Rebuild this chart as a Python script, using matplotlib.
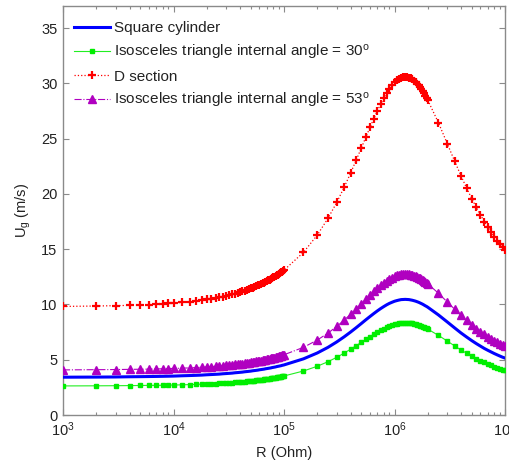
import matplotlib
matplotlib.use('Agg')
import matplotlib.pyplot as plt
from matplotlib.ticker import LogLocator, NullFormatter

# Load resistance R in kOhm (sample grid)
R_kohm = [1, 2, 3, 4, 5, 6, 7, 8, 9, 10,
          12, 14, 16, 18, 20, 22, 24, 26, 28, 30, 32, 34, 36, 38, 40, 42, 44, 46, 48, 50,
          52, 54, 56, 58, 60, 62, 64, 66, 68, 70, 72, 74, 76, 78, 80, 82, 84, 86, 88, 90,
          92, 94, 96, 98, 100,
          150, 200, 250, 300, 350, 400, 450, 500, 550, 600, 650, 700, 750, 800, 850, 900,
          950, 1000, 1050, 1100, 1150, 1200, 1250, 1300, 1350, 1400, 1450, 1500, 1550, 1600,
          1650, 1700, 1750, 1800, 1850, 1900, 1950, 2000,
          2500, 3000, 3500, 4000, 4500, 5000, 5500, 6000, 6500, 7000, 7500, 8000, 8500,
          9000, 9500, 10000]

U_square = [3.42, 3.43, 3.44, 3.46, 3.47, 3.48, 3.49, 3.50, 3.51, 3.52,
            3.55, 3.57, 3.59, 3.61, 3.64, 3.66, 3.68, 3.70, 3.73, 3.75, 3.77, 3.79, 3.82, 3.84, 3.86,
            3.88, 3.91, 3.93, 3.95, 3.97, 4.00, 4.02, 4.04, 4.06, 4.09, 4.11, 4.13, 4.15, 4.18, 4.20,
            4.22, 4.24, 4.26, 4.29, 4.31, 4.33, 4.35, 4.38, 4.40, 4.42, 4.44, 4.46, 4.49, 4.51, 4.53,
            5.08, 5.61, 6.12, 6.61, 7.07, 7.50, 7.90, 8.27, 8.61, 8.91, 9.18, 9.42, 9.63, 9.81, 9.97,
            10.10, 10.20, 10.29, 10.35, 10.40, 10.44, 10.45, 10.46, 10.45, 10.44, 10.41, 10.38, 10.34,
            10.30, 10.25, 10.20, 10.14, 10.08, 10.02, 9.95, 9.88, 9.82, 9.75,
            9.05, 8.42, 7.88, 7.42, 7.05, 6.73, 6.46, 6.23, 6.02, 5.85, 5.70, 5.56, 5.44, 5.33, 5.23, 5.15]

U_tri30 = [2.63, 2.64, 2.65, 2.66, 2.67, 2.68, 2.68, 2.69, 2.70, 2.71,
           2.73, 2.75, 2.77, 2.79, 2.80, 2.82, 2.84, 2.86, 2.88, 2.90, 2.91, 2.93, 2.95, 2.97, 2.99,
           3.00, 3.02, 3.04, 3.06, 3.08, 3.10, 3.11, 3.13, 3.15, 3.17, 3.19, 3.21, 3.22, 3.24, 3.26,
           3.28, 3.30, 3.31, 3.33, 3.35, 3.37, 3.39, 3.40, 3.42, 3.44, 3.46, 3.48, 3.49, 3.51, 3.53,
           3.98, 4.41, 4.82, 5.22, 5.60, 5.95, 6.27, 6.57, 6.84, 7.09, 7.31, 7.51, 7.68, 7.82, 7.95,
           8.05, 8.14, 8.21, 8.26, 8.30, 8.33, 8.35, 8.35, 8.35, 8.33, 8.31, 8.29, 8.26,
           8.22, 8.18, 8.14, 8.09, 8.04, 7.99, 7.94, 7.88, 7.83, 7.77,
           7.20, 6.69, 6.25, 5.88, 5.58, 5.32, 5.10, 4.91, 4.75, 4.60, 4.48, 4.37, 4.27, 4.18, 4.10, 4.03]

U_dsec = [9.82, 9.86, 9.89, 9.92, 9.96, 9.99, 10.02, 10.06, 10.09, 10.12,
          10.19, 10.26, 10.32, 10.39, 10.46, 10.52, 10.59, 10.66, 10.72, 10.79, 10.86, 10.92, 10.99,
          11.05, 11.12, 11.19, 11.25, 11.32, 11.39, 11.45, 11.52, 11.58, 11.65, 11.72, 11.78, 11.85,
          11.91, 11.98, 12.05, 12.11, 12.18, 12.24, 12.31, 12.38, 12.44, 12.51, 12.57, 12.64, 12.70,
          12.77, 12.84, 12.90, 12.97, 13.03, 13.10,
          14.71, 16.28, 17.79, 19.23, 20.59, 21.87, 23.05, 24.14, 25.13, 26.02, 26.82, 27.52, 28.14,
          28.68, 29.13, 29.52, 29.83, 30.08, 30.28, 30.42, 30.52, 30.57, 30.59, 30.57, 30.53, 30.46,
          30.36, 30.25, 30.12, 29.97, 29.81, 29.64, 29.47, 29.28, 29.09, 28.89, 28.69, 28.49,
          26.43, 24.56, 22.97, 21.63, 20.52, 19.58, 18.78, 18.10, 17.50, 16.99, 16.54, 16.14, 15.78,
          15.46, 15.17, 14.91]

U_tri53 = [4.08, 4.10, 4.11, 4.13, 4.14, 4.15, 4.17, 4.18, 4.20, 4.21,
           4.24, 4.26, 4.29, 4.32, 4.35, 4.38, 4.40, 4.43, 4.46, 4.49, 4.51, 4.54, 4.57, 4.60, 4.62,
           4.65, 4.68, 4.71, 4.74, 4.76, 4.79, 4.82, 4.85, 4.87, 4.90, 4.93, 4.96, 4.98, 5.01, 5.04,
           5.07, 5.09, 5.12, 5.15, 5.18, 5.20, 5.23, 5.26, 5.29, 5.31, 5.34, 5.37, 5.40, 5.42, 5.45,
           6.12, 6.78, 7.41, 8.01, 8.58, 9.11, 9.60, 10.06, 10.47, 10.84, 11.18, 11.47, 11.73, 11.95,
           12.14, 12.30, 12.43, 12.54, 12.62, 12.68, 12.72, 12.74, 12.75, 12.74, 12.72, 12.69, 12.66,
           12.61, 12.55, 12.49, 12.43, 12.36, 12.28, 12.20, 12.12, 12.04, 11.96, 11.87,
           11.01, 10.23, 9.57, 9.01, 8.55, 8.16, 7.82, 7.54, 7.29, 7.07, 6.89, 6.72, 6.57, 6.44, 6.32, 6.21]

labels = ['Square cylinder',
          r'Isosceles triangle internal angle = 30$^{\mathrm{o}}$',
          'D section',
          r'Isosceles triangle internal angle = 53$^{\mathrm{o}}$']
y_ticks = [0, 5, 10, 15, 20, 25, 30, 35]
x_ticks = [1e3, 1e4, 1e5, 1e6, 1e7]

plt.rcParams['font.family'] = ['Liberation Sans', 'DejaVu Sans']
plt.rcParams['mathtext.fontset'] = 'custom'
plt.rcParams['mathtext.rm'] = 'Liberation Sans'
plt.rcParams['mathtext.it'] = 'Liberation Sans:italic'
plt.rcParams['mathtext.bf'] = 'Liberation Sans:bold'

R = [r * 1e3 for r in R_kohm]

fig = plt.figure(figsize=(5.09, 4.61), dpi=100)
ax = fig.add_axes([63 / 509, 46 / 461, 442 / 509, 409 / 461])

ax.plot(R, U_square, '-', color='#0000ff', lw=2.2, label=labels[0], zorder=3)
ax.plot(R, U_tri30, '-', color='#22ee22', lw=0.8, marker='s', ms=2.4, mec='#00ee00',
        mfc='#00ee00', label=labels[1], zorder=3)
ax.plot(R, U_dsec, ':', color='#ff0000', lw=0.9, marker='+', ms=6, mew=1.6, label=labels[2], zorder=3)
ax.plot(R, U_tri53, '-.', color='#b000c0', lw=0.8, marker='^', ms=6, mec='#b000c0', mfc='#b000c0',
        label=labels[3], zorder=3)

ax.set_xscale('log')
ax.set_xlim(1e3, 1e7)
ax.set_ylim(0, 37)
ax.set_yticks(y_ticks)
ax.set_xticks(x_ticks)
ax.xaxis.set_minor_locator(LogLocator(base=10, subs=range(2, 10)))
ax.xaxis.set_minor_formatter(NullFormatter())

spine_col = '#8a8a8a'
for s in ax.spines.values():
    s.set_color(spine_col)
    s.set_linewidth(1.0)
ax.tick_params(which='both', direction='in', top=True, right=True, colors=spine_col,
               labelcolor='#222222', labelsize=10.5)
ax.tick_params(which='major', length=4, width=0.8, pad=4)
ax.tick_params(which='minor', length=2, width=0.8)

ax.set_xlabel('R (Ohm)', fontsize=10.5, color='#222222', labelpad=5)
ax.set_ylabel(r'U$_{\mathrm{g}}$ (m/s)', fontsize=10.5, color='#222222', labelpad=6)

leg = ax.legend(loc='upper left', bbox_to_anchor=(0.005, 0.985), frameon=False, fontsize=11,
                handlelength=2.3, handletextpad=0.3, numpoints=1, borderaxespad=0.2,
                labelspacing=0.5)
for t in leg.get_texts():
    t.set_color('#222222')

fig.savefig('out.png', dpi=100)
